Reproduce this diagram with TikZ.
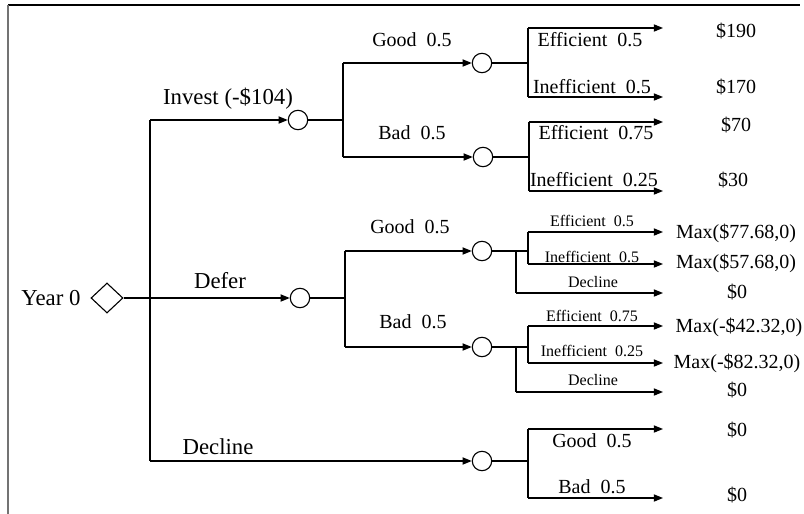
\documentclass[tikz,border=0pt]{standalone}
\usepackage{fontspec}
\setmainfont{Liberation Serif}
\usetikzlibrary{shapes.geometric,arrows.meta}
\newcommand\sgap{\hspace{0.5em}}
\begin{document}
\begin{tikzpicture}[x=0.5pt,y=-0.5pt,
  ln/.style={line width=0.55pt},
  arr/.style={ln,-{Triangle[length=4.6pt,width=3.6pt]}},
  chance/.style={circle,draw,line width=0.55pt,minimum size=9.7pt,inner sep=0pt,fill=white},
  decision/.style={diamond,draw,line width=0.55pt,minimum width=16pt,minimum height=15pt,inner sep=0pt},
  big/.style={font=\fontsize{11.4}{13}\selectfont, inner sep=0pt},
  mid/.style={font=\fontsize{10}{12}\selectfont, inner sep=0pt},
  sml/.style={font=\fontsize{8}{10}\selectfont, inner sep=0pt}]
\useasboundingbox (0,0) rectangle (804,514);
% frame
\coordinate (fa) at (8,5);
\coordinate (fb) at (800,5);
\coordinate (fc) at (8,514);
\draw[line width=0.55pt] (fa) -- (fb);
\draw[line width=1pt, black!55] (fa) -- (fc);

% root
\node[big] (year) at (51,298) {Year 0};
\node[decision] (d0) at (107,298) {};
\coordinate (t1) at (150,120);
\coordinate (t3) at (150,461);
\draw[ln] (t1) -- (t3);

% first-level chance nodes
\node[chance] (ci) at (298,120) {};
\node[chance] (cd) at (300,298) {};
\node[chance] (cx) at (482,461) {};
\draw[arr] (t1) -- (ci);
\draw[arr] (d0.east) -- (cd);
\draw[arr] (t3) -- (cx);
\node[big] (linv) at (228,99) {Invest (-\$104)};
\node[big] (ldef) at (220,281) {Defer};
\node[big] (ldec) at (218,447) {Decline};

% ---------- Invest subtree
\coordinate (ij) at (343,120);
\coordinate (ijt) at (343,63);
\coordinate (ijb) at (343,157);
\draw[ln] (ci) -- (ij);
\draw[ln] (ijt) -- (ijb);
\node[chance] (cig) at (482,63) {};
\node[chance] (cib) at (483,157) {};
\draw[arr] (ijt) -- (cig);
\draw[arr] (ijb) -- (cib);
\node[mid] (lig) at (412,40) {Good\sgap 0.5};
\node[mid] (lib) at (412,133) {Bad\sgap 0.5};

\coordinate (igj) at (528,63);
\coordinate (igt) at (528,28);
\coordinate (igb) at (528,97);
\coordinate (igte) at (663,28);
\coordinate (igbe) at (663,97);
\draw[ln] (cig) -- (igj);
\draw[ln] (igt) -- (igb);
\draw[arr] (igt) -- (igte);
\draw[arr] (igb) -- (igbe);
\node[mid] (l1) at (590,40) {Efficient\sgap 0.5};
\node[mid] (l2) at (592,87) {Inefficient\sgap 0.5};
\node[mid] (v1) at (736,31) {\$190};
\node[mid] (v2) at (736,87) {\$170};

\coordinate (ibj) at (529,157);
\coordinate (ibt) at (529,122);
\coordinate (ibb) at (529,191);
\coordinate (ibte) at (663,122);
\coordinate (ibbe) at (663,191);
\draw[ln] (cib) -- (ibj);
\draw[ln] (ibt) -- (ibb);
\draw[arr] (ibt) -- (ibte);
\draw[arr] (ibb) -- (ibbe);
\node[mid] (l3) at (596,133) {Efficient\sgap 0.75};
\node[mid] (l4) at (594,180) {Inefficient\sgap 0.25};
\node[mid] (v3) at (736,125) {\$70};
\node[mid] (v4) at (733,180) {\$30};

% ---------- Defer subtree
\coordinate (dj) at (345,298);
\coordinate (djt) at (345,251);
\coordinate (djb) at (345,347);
\draw[ln] (cd) -- (dj);
\draw[ln] (djt) -- (djb);
\node[chance] (cdg) at (482,251) {};
\node[chance] (cdb) at (482,347) {};
\draw[arr] (djt) -- (cdg);
\draw[arr] (djb) -- (cdb);
\node[mid] (ldg) at (410,227) {Good\sgap 0.5};
\node[mid] (ldb) at (413,322) {Bad\sgap 0.5};

\coordinate (dga) at (516,251);
\coordinate (dgd) at (516,293);
\coordinate (dgj) at (528,251);
\coordinate (dgt) at (528,232);
\coordinate (dgb) at (528,264);
\coordinate (dgte) at (663,232);
\coordinate (dgbe) at (663,264);
\coordinate (dgde) at (663,293);
\draw[ln] (cdg) -- (dgj);
\draw[ln] (dgt) -- (dgb);
\draw[ln] (dga) -- (dgd);
\draw[arr] (dgt) -- (dgte);
\draw[arr] (dgb) -- (dgbe);
\draw[arr] (dgd) -- (dgde);
\node[sml] (l5) at (592,221) {Efficient\sgap 0.5};
\node[sml] (l6) at (592,257) {Inefficient\sgap 0.5};
\node[sml] (l7) at (593,282) {Decline};
\node[mid] (v5) at (736,233) {Max(\$77.68,0)};
\node[mid] (v6) at (736,263) {Max(\$57.68,0)};
\node[mid] (v7) at (737,292) {\$0};

\coordinate (dba) at (516,347);
\coordinate (dbd) at (516,392);
\coordinate (dbj) at (528,347);
\coordinate (dbt) at (528,326);
\coordinate (dbb) at (528,363);
\coordinate (dbte) at (663,326);
\coordinate (dbbe) at (663,363);
\coordinate (dbde) at (663,392);
\draw[ln] (cdb) -- (dbj);
\draw[ln] (dbt) -- (dbb);
\draw[ln] (dba) -- (dbd);
\draw[arr] (dbt) -- (dbte);
\draw[arr] (dbb) -- (dbbe);
\draw[arr] (dbd) -- (dbde);
\node[sml] (l8) at (592,316) {Efficient\sgap 0.75};
\node[sml] (l9) at (592,351) {Inefficient\sgap 0.25};
\node[sml] (l10) at (593,380) {Decline};
\node[mid] (v8) at (739,327) {Max(-\$42.32,0)};
\node[mid] (v9) at (737,363) {Max(-\$82.32,0)};
\node[mid] (v10) at (737,390) {\$0};

% ---------- Decline subtree
\coordinate (xj) at (528,461);
\coordinate (xjt) at (528,429);
\coordinate (xjb) at (528,498);
\coordinate (xjte) at (663,429);
\coordinate (xjbe) at (663,498);
\draw[ln] (cx) -- (xj);
\draw[ln] (xjt) -- (xjb);
\draw[arr] (xjt) -- (xjte);
\draw[arr] (xjb) -- (xjbe);
\node[mid] (l11) at (592,441) {Good\sgap 0.5};
\node[mid] (l12) at (592,487) {Bad\sgap 0.5};
\node[mid] (v11) at (737,430) {\$0};
\node[mid] (v12) at (737,495) {\$0};
\end{tikzpicture}
\end{document}
